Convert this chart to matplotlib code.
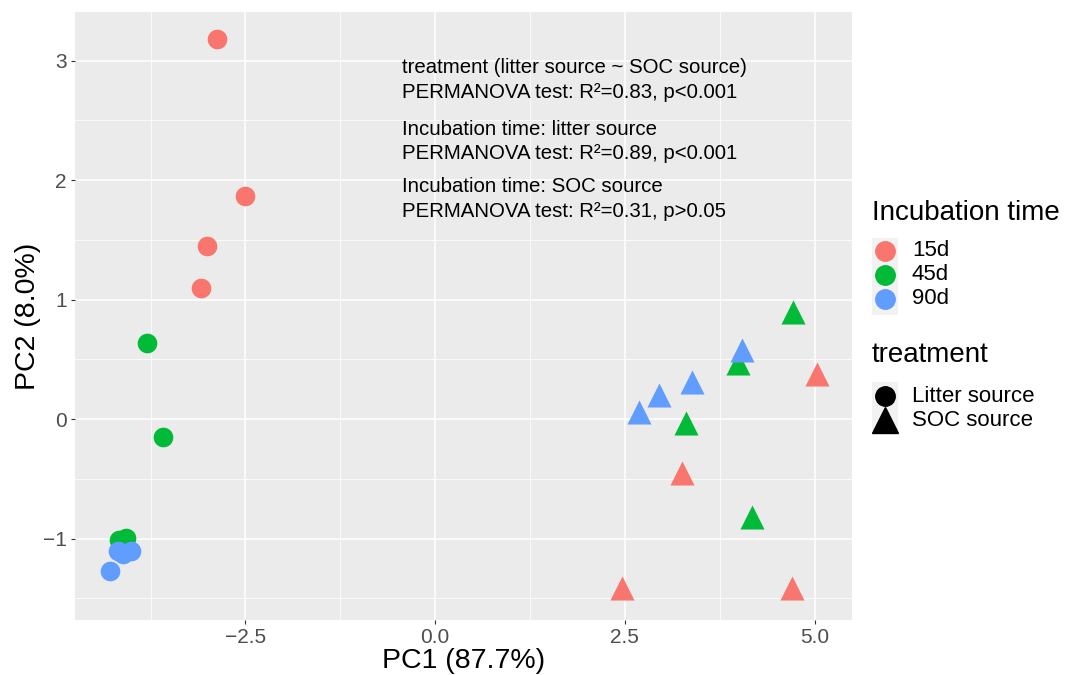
import matplotlib.pyplot as plt
from matplotlib.lines import Line2D
from matplotlib.patches import Rectangle

plt.rcParams['font.family'] = ['Liberation Sans', 'DejaVu Sans']

# PCA scores
litter_15_x = [-2.87, -2.51, -3.00, -3.09]
litter_15_y = [3.18, 1.87, 1.45, 1.10]
litter_45_x = [-3.79, -3.59, -4.07, -4.16]
litter_45_y = [0.64, -0.15, -0.99, -1.01]
litter_90_x = [-4.18, -4.01, -4.11, -4.28]
litter_90_y = [-1.10, -1.10, -1.13, -1.27]

soc_15_x = [5.03, 3.25, 2.46, 4.70]
soc_15_y = [0.38, -0.45, -1.41, -1.41]
soc_45_x = [4.71, 3.99, 3.30, 4.17]
soc_45_y = [0.90, 0.47, -0.03, -0.82]
soc_90_x = [4.05, 3.39, 2.95, 2.68]
soc_90_y = [0.58, 0.31, 0.20, 0.06]

times = ['15d', '45d', '90d']
colors = ['#F8766D', '#00BA38', '#619CFF']
treatments = ['Litter source', 'SOC source']

notes = ['treatment (litter source ~ SOC source)',
         'PERMANOVA test: R\u00b2=0.83, p<0.001',
         'Incubation time: litter source',
         'PERMANOVA test: R\u00b2=0.89, p<0.001',
         'Incubation time: SOC source',
         'PERMANOVA test: R\u00b2=0.31, p>0.05']
note_y = [2.94, 2.73, 2.42, 2.22, 1.95, 1.74]

fig = plt.figure(figsize=(10.67, 6.75), dpi=100)
ax = fig.add_axes([0.0703, 0.0815, 0.728, 0.9005])
ax.set_facecolor('#EBEBEB')

litter = [(litter_15_x, litter_15_y), (litter_45_x, litter_45_y), (litter_90_x, litter_90_y)]
soc = [(soc_15_x, soc_15_y), (soc_45_x, soc_45_y), (soc_90_x, soc_90_y)]
for (xs, ys), c in zip(litter, colors):
    ax.scatter(xs, ys, s=200, marker='o', color=c, linewidths=0, zorder=3)
for (xs, ys), c in zip(soc, colors):
    ax.scatter(xs, ys, s=300, marker='^', color=c, linewidths=0, zorder=3)

ax.set_xlim(-4.745, 5.49)
ax.set_ylim(-1.68, 3.405)
ax.set_xticks([-2.5, 0, 2.5, 5.0])
ax.set_xticklabels(['\u22122.5', '0.0', '2.5', '5.0'])
ax.set_yticks([-1, 0, 1, 2, 3])
ax.set_yticklabels(['\u22121', '0', '1', '2', '3'])
ax.set_xticks([-3.75, -1.25, 1.25, 3.75], minor=True)
ax.set_yticks([-1.5, -0.5, 0.5, 1.5, 2.5], minor=True)
ax.grid(which='major', color='white', linewidth=1.1)
ax.grid(which='minor', color='white', linewidth=0.55)
ax.set_axisbelow(True)
for sp in ax.spines.values():
    sp.set_visible(False)
ax.tick_params(which='both', length=0)
ax.tick_params(which='major', length=3, color='#333333', labelsize=15, labelcolor='#4D4D4D', pad=3)

ax.set_xlabel('PC1 (87.7%)', fontsize=20.5, va='baseline')
ax.set_ylabel('PC2 (8.0%)', fontsize=20.5, va='center')
ax.xaxis.set_label_coords(0.5, -0.079)
ax.yaxis.set_label_coords(-0.0605, 0.5)

for y, t in zip(note_y, notes):
    ax.text(-0.43, y, t, fontsize=14.7, va='center', ha='left', zorder=4)

# legends drawn by hand in figure pixels
W, H = 1067, 675
def fx(px):
    return px / W
def fy(py):
    return 1 - py / H

fig.text(fx(872), fy(213), 'Incubation time', fontsize=20, va='center', ha='left')
fig.add_artist(Rectangle((fx(872), fy(315)), fx(26), 77 / H, transform=fig.transFigure,
                         facecolor='#F2F2F2', edgecolor='none'))
for py, c, t in zip([251, 275, 299], colors, times):
    fig.add_artist(Line2D([fx(885)], [fy(py)], transform=fig.transFigure, marker='o',
                          markersize=14, color=c, ls=''))
    fig.text(fx(912), fy(py), t, fontsize=16, va='center', ha='left')

fig.text(fx(872), fy(355), 'treatment', fontsize=20, va='center', ha='left')
fig.add_artist(Rectangle((fx(872), fy(430)), fx(26), 48 / H, transform=fig.transFigure,
                         facecolor='#F2F2F2', edgecolor='none'))
for py, m, ms, t in zip([396, 420], ['o', '^'], [14, 19], treatments):
    fig.add_artist(Line2D([fx(885)], [fy(py)], transform=fig.transFigure, marker=m,
                          markersize=ms, color='black', ls=''))
    fig.text(fx(912), fy(py), t, fontsize=16, va='center', ha='left')

fig.savefig('out.png', dpi=100)
